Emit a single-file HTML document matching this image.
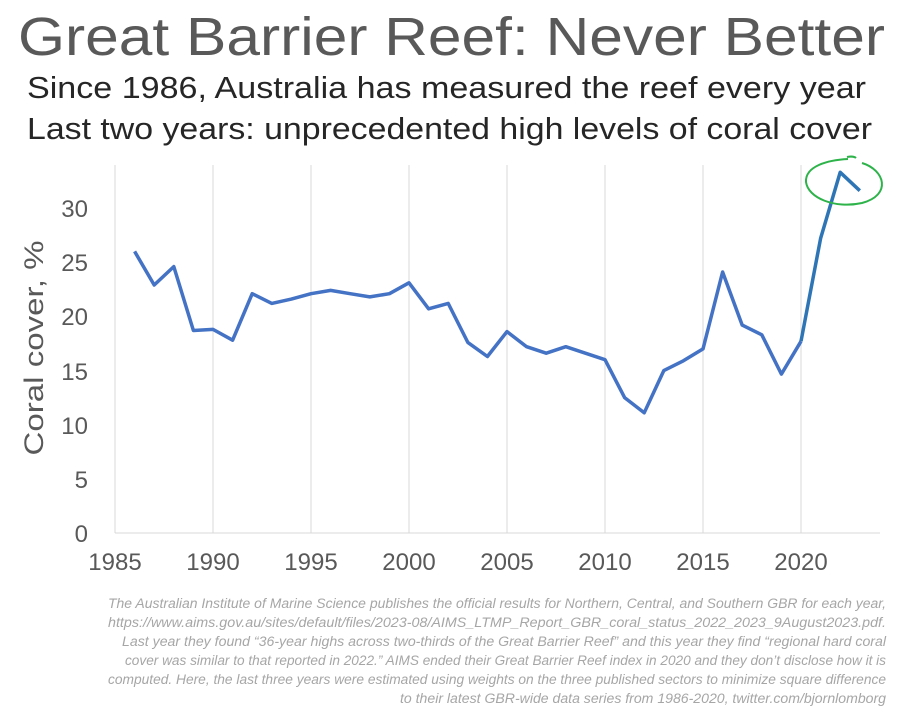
<!DOCTYPE html>
<html><head><meta charset="utf-8"><style>
body{margin:0;background:#fff;width:897px;height:720px;overflow:hidden;font-family:"Liberation Sans",sans-serif;}
</style></head><body>
<svg width="897" height="720" xmlns="http://www.w3.org/2000/svg" font-family="Liberation Sans, sans-serif">
<text x="18" y="55" textLength="867" lengthAdjust="spacingAndGlyphs" font-size="54" fill="#595959">Great Barrier Reef: Never Better</text>
<text x="27" y="98" textLength="839" lengthAdjust="spacingAndGlyphs" font-size="31" fill="#262626">Since 1986, Australia has measured the reef every year</text>
<text x="27" y="139" textLength="845" lengthAdjust="spacingAndGlyphs" font-size="31" fill="#262626">Last two years: unprecedented high levels of coral cover</text>
<g stroke="#d9d9d9" stroke-width="1">
<line x1="115" y1="165" x2="115" y2="533"/><line x1="213" y1="165" x2="213" y2="533"/><line x1="311" y1="165" x2="311" y2="533"/><line x1="409" y1="165" x2="409" y2="533"/><line x1="507" y1="165" x2="507" y2="533"/><line x1="605" y1="165" x2="605" y2="533"/><line x1="703" y1="165" x2="703" y2="533"/><line x1="801" y1="165" x2="801" y2="533"/>
<line x1="115" y1="533" x2="880" y2="533"/>
</g>
<g font-size="24" fill="#595959" text-anchor="end">
<text x="88" y="542">0</text><text x="88" y="488">5</text><text x="88" y="434">10</text><text x="88" y="380">15</text><text x="88" y="325">20</text><text x="88" y="271">25</text><text x="88" y="217">30</text>
</g>
<g font-size="24" fill="#595959" text-anchor="middle">
<text x="115" y="570">1985</text><text x="213" y="570">1990</text><text x="311" y="570">1995</text><text x="409" y="570">2000</text><text x="507" y="570">2005</text><text x="605" y="570">2010</text><text x="703" y="570">2015</text><text x="801" y="570">2020</text>
</g>
<text transform="translate(43,348) rotate(-90)" text-anchor="middle" font-size="27" textLength="215" lengthAdjust="spacingAndGlyphs" fill="#595959">Coral cover, %</text>
<polyline fill="none" stroke="#4472C4" stroke-width="3.5" stroke-linejoin="round" points="134.6,251.4 154.2,285 173.8,266.6 193.4,330.5 213,329.4 232.6,340.2 252.2,293.7 271.8,303.4 291.4,299.1 311,293.7 330.6,290.4 350.2,293.7 369.8,296.9 389.4,293.7 409,282.8 428.6,308.8 448.2,303.4 467.8,342.4 487.4,356.5 507,331.6 526.6,346.7 546.2,353.2 565.8,346.7 585.4,353.2 605,359.7 624.6,397.6 644.2,412.8 663.8,370.6 683.4,360.8 703,348.9 722.6,272 742.2,325.1 761.8,334.8 781.4,374.1 801,341.3"/>
<polyline fill="none" stroke="#2E75B6" stroke-width="3.5" stroke-linejoin="round" points="801,341.3 820.6,238.4 840.2,172.3 859.8,190.7"/>
<path d="M862,163 C 885,170 892,195 862,203 C 835,209 808,198 806,182 C 805,166 828,160 848,159 M847,157 C 852,156 855,157 856,158" fill="none" stroke="#2DB34A" stroke-width="2"/>
<g font-size="13.5" font-style="italic" fill="#a6a6a6" text-anchor="end">
<text x="886" y="608" textLength="778" lengthAdjust="spacingAndGlyphs">The Australian Institute of Marine Science publishes the official results for Northern, Central, and Southern GBR for each year,</text>
<text x="886" y="627" textLength="778" lengthAdjust="spacingAndGlyphs">https://www.aims.gov.au/sites/default/files/2023-08/AIMS_LTMP_Report_GBR_coral_status_2022_2023_9August2023.pdf.</text>
<text x="886" y="646" textLength="764" lengthAdjust="spacingAndGlyphs">Last year they found “36-year highs across two-thirds of the Great Barrier Reef” and this year they find “regional hard coral</text>
<text x="886" y="665" textLength="761" lengthAdjust="spacingAndGlyphs">cover was similar to that reported in 2022.” AIMS ended their Great Barrier Reef index in 2020 and they don’t disclose how it is</text>
<text x="886" y="684" textLength="778" lengthAdjust="spacingAndGlyphs">computed. Here, the last three years were estimated using weights on the three published sectors to minimize square difference</text>
<text x="886" y="703" textLength="486" lengthAdjust="spacingAndGlyphs">to their latest GBR-wide data series from 1986-2020, twitter.com/bjornlomborg</text>
</g>
</svg>
</body></html>
